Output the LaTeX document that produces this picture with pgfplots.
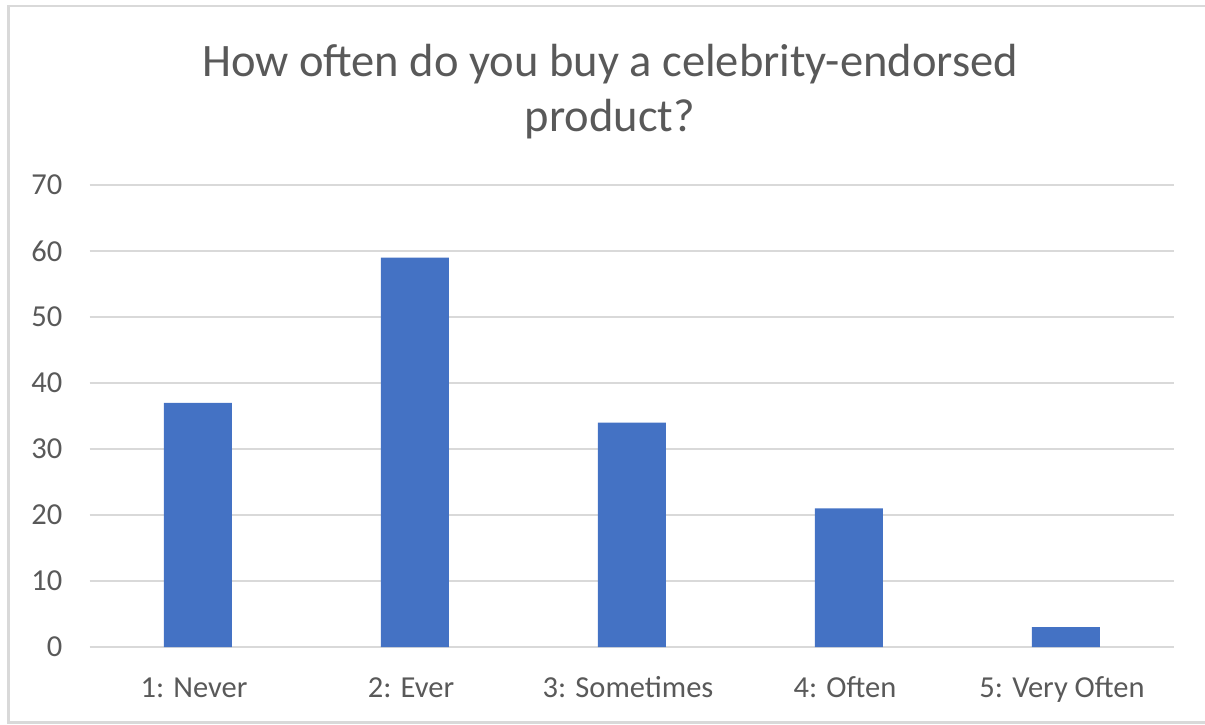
\documentclass[border=0pt]{standalone}
\usepackage{pgfplots}
\pgfplotsset{compat=1.18}
\usepackage{fontspec}
\setmainfont{Carlito}
\definecolor{barblue}{HTML}{4472C4}
\definecolor{gridgray}{HTML}{D9D9D9}
\definecolor{txtgray}{HTML}{595959}
\begin{document}
\begin{tikzpicture}[x=1pt,y=1pt]
\useasboundingbox (0,0) rectangle (1205,724);
\draw[gridgray, line width=2.5pt] (1205,718) -- (8.5,718) -- (8.5,1.5) -- (1205,1.5);
\node[anchor=base, text=txtgray, font=\fontsize{46.5}{54}\selectfont] at (610,647) {How often do you buy a celebrity-endorsed};
\node[anchor=base, text=txtgray, font=\fontsize{46.5}{54}\selectfont] at (610,592) {product?};
\begin{axis}[
  at={(89.5pt,77pt)}, anchor=south west,
  scale only axis, width=1085pt, height=462pt,
  xmin=-0.5, xmax=4.5, ymin=0, ymax=70,
  xtick={0,1,2,3,4},
  xticklabels={1: Never, 2: Ever, 3: Sometimes, 4: Often, 5: Very Often},
  ytick={0,10,...,70},
  major tick length=0pt,
  axis line style={draw=none},
  ymajorgrids, grid style={gridgray, line width=1.6pt},
  tick label style={text=txtgray, font=\fontsize{30.5}{37}\selectfont},
  /pgf/number format/assume math mode=true,
  xticklabel style={anchor=base, inner sep=0pt, yshift=-50pt, xshift=-4pt},
  yticklabel style={anchor=east, inner sep=0pt, xshift=-27pt},
  clip=false,
]
\addplot[ybar, bar width=68pt, fill=barblue, draw=none] coordinates {(0,37) (1,59) (2,34) (3,21) (4,3)};
\end{axis}
\end{tikzpicture}
\end{document}
